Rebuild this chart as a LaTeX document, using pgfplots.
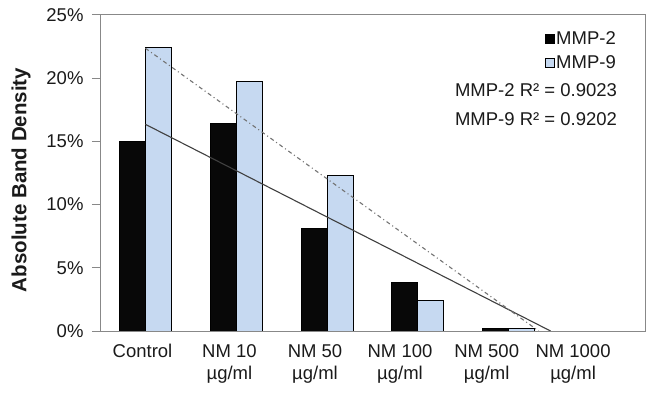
\documentclass[border=0pt]{standalone}
\usepackage{pgfplots}
\pgfplotsset{compat=1.18}
\usepackage{fontspec}
\setmainfont{Liberation Sans}
\definecolor{bluefill}{HTML}{C6D9F1}
\definecolor{axgray}{HTML}{888888}
\definecolor{txt}{HTML}{1A1A1A}
\pgfplotsset{
  sqblack/.style={legend image code/.code={\draw[fill=black, draw=black, line width=0.7bp] (0bp,-4.3bp) rectangle (8.6bp,4.3bp);}},
  sqblue/.style={legend image code/.code={\draw[fill=bluefill, draw=black, line width=0.7bp] (0bp,-4.3bp) rectangle (8.6bp,4.3bp);}},
}
\begin{document}
\begin{tikzpicture}
\useasboundingbox (0,0) rectangle (650bp,394bp);
\begin{axis}[
  at={(100bp,63bp)}, anchor=south west,
  scale only axis, width=545bp, height=316bp,
  xmin=0.5, xmax=6.5, ymin=0, ymax=25,
  font=\fontsize{18.5bp}{22bp}\selectfont,
  /pgf/number format/assume math mode=true,
  axis line style={axgray, line width=1bp},
  ytick={0,5,10,15,20,25},
  yticklabel={\pgfmathprintnumber{\tick}\%},
  yticklabel style={text=txt, xshift=-5bp},
  ytick style={axgray, line width=1bp},
  tick align=outside, major tick length=8bp,
  ytick pos=left,
  xtick={0.968,1.925,2.867,3.803,4.757,5.708},
  xticklabels={Control,{NM 10\\µg/ml},{NM 50\\µg/ml},{NM 100\\µg/ml},{NM 500\\µg/ml},{NM 1000\\µg/ml}},
  xticklabel style={align=center, text=txt, yshift=-2bp},
  x tick style={draw=none},
  xtick pos=bottom,
  ylabel={\bfseries Absolute Band Density},
  ylabel style={at={(axis description cs:-0.145,0.478)}, anchor=center, text=txt, font=\fontsize{20.5bp}{22bp}\selectfont},
  ybar=0pt, bar width=26bp,
  legend style={draw=none, fill=none, at={(axis description cs:0.9505,0.955)}, anchor=north east, row sep=6bp, inner sep=0pt, font=\fontsize{18.5bp}{22bp}\selectfont, text=txt},
  legend cell align=left,
]
\addplot[fill=black!97, draw=black, line width=1bp, sqblack] coordinates {(1,15.0) (2,16.4) (3,8.1) (4,3.85) (5,0.2) (6,0)};
\addlegendentry{MMP-2}
\addplot[fill=bluefill, draw=black, line width=1bp, sqblue] coordinates {(1,22.4) (2,19.7) (3,12.3) (4,2.45) (5,0.2) (6,0)};
\addlegendentry{MMP-9}
\addplot[sharp plot, draw=black!75, line width=1.1bp, forget plot, bar shift=0pt] coordinates {(1,16.35) (5.46,0)};
\addplot[sharp plot, draw=black!55, line width=1.1bp, dash pattern=on 4bp off 3bp on 1bp off 3bp, forget plot, bar shift=0pt] coordinates {(1,22.37) (5.33,0)};
\node[anchor=east, text=txt, inner sep=0pt, font=\fontsize{18.5bp}{22bp}\selectfont] at (axis description cs:0.949,0.763) {MMP-2 R² = 0.9023};
\node[anchor=east, text=txt, inner sep=0pt, font=\fontsize{18.5bp}{22bp}\selectfont] at (axis description cs:0.949,0.671) {MMP-9 R² = 0.9202};
\end{axis}
\end{tikzpicture}
\end{document}
